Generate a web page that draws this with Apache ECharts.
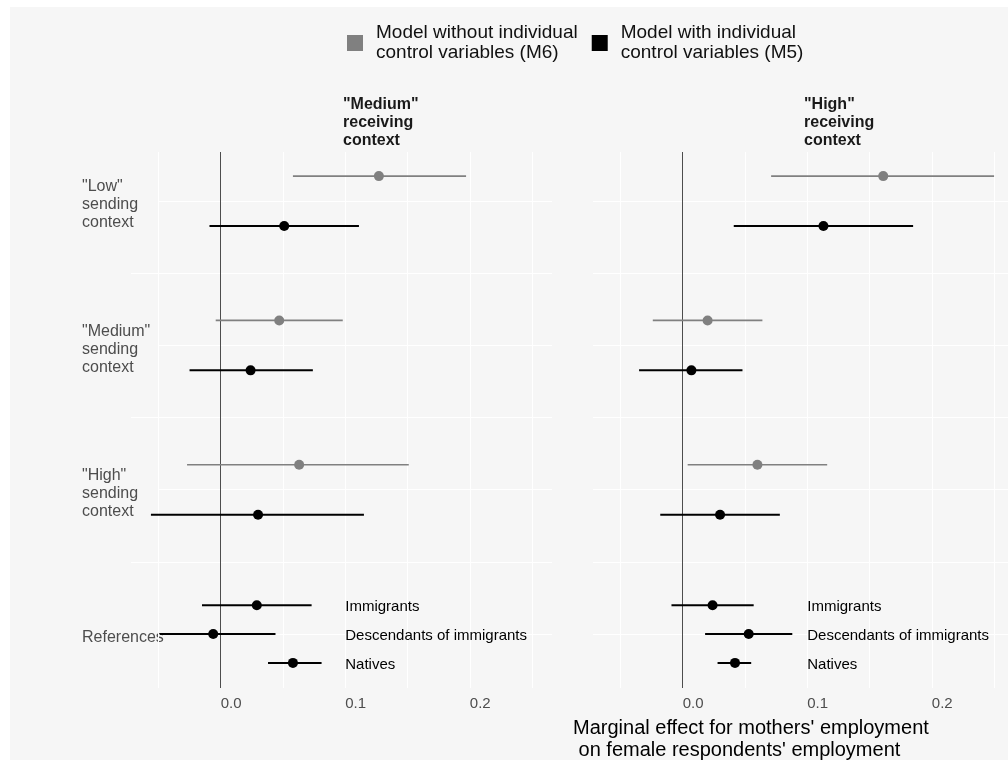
<!DOCTYPE html>
<html>
<head>
<meta charset="utf-8">
<script src="https://cdn.jsdelivr.net/npm/echarts@6/dist/echarts.min.js"></script>
<style>html,body{margin:0;padding:0;background:#fff}#c{width:1008px;height:760px}</style>
</head>
<body>
<div id="c"></div>
<script>
// ---------- data ----------
const panelTitles = ['"Medium"\nreceiving\ncontext', '"High"\nreceiving\ncontext'];
const rowLabels = ['References', '"High"\nsending\ncontext', '"Medium"\nsending\ncontext', '"Low"\nsending\ncontext'];
const sendingCats = ['"Low"\nsending\ncontext', '"Medium"\nsending\ncontext', '"High"\nsending\ncontext'];
const refCats = ['Immigrants', 'Descendants of immigrants', 'Natives'];
const seriesNames = ['Model without individual\ncontrol variables (M6)', 'Model with individual\ncontrol variables (M5)'];
const xTickValues = [0, 0.1, 0.2];
const xTickLabels = ['0.0', '0.1', '0.2'];
const xGridValues = [-0.05, 0, 0.05, 0.1, 0.15, 0.2, 0.25];
const yMajorGrid = [1, 2, 3, 4];
const yMinorGrid = [1.5, 2.5, 3.5];

// "Medium" receiving context (order: Low, Medium, High sending)
const medM6Est = [0.127, 0.047, 0.063];
const medM6Lo  = [0.058, -0.004, -0.027];
const medM6Hi  = [0.197, 0.098, 0.151];
const medM5Est = [0.051, 0.024, 0.030];
const medM5Lo  = [-0.009, -0.025, -0.056];
const medM5Hi  = [0.111, 0.074, 0.115];
const medRefEst = [0.029, -0.006, 0.058];
const medRefLo  = [-0.015, -0.049, 0.038];
const medRefHi  = [0.073, 0.044, 0.081];
// "High" receiving context
const highM6Est = [0.161, 0.020, 0.060];
const highM6Lo  = [0.071, -0.024, 0.004];
const highM6Hi  = [0.250, 0.064, 0.116];
const highM5Est = [0.113, 0.007, 0.030];
const highM5Lo  = [0.041, -0.035, -0.018];
const highM5Hi  = [0.185, 0.048, 0.078];
const highRefEst = [0.024, 0.053, 0.042];
const highRefLo  = [-0.009, 0.018, 0.028];
const highRefHi  = [0.057, 0.088, 0.055];

// ---------- layout helpers ----------
const DODGE = 0.173, REF_DODGE = 0.2, REF_LABEL_X = 0.1, LABEL_SHIFT = 0.026;
const groupPos = i => 4 - i;           // Low=4, Medium=3, High=2
const refPos = i => 1 + REF_DODGE * (1 - i); // Immigrants top, Natives bottom

function rows(lo, hi, est, off) {
  return est.map((e, i) => [lo[i], hi[i], e, groupPos(i) + off]);
}
function refRows(lo, hi, est) {
  return est.map((e, i) => [lo[i], hi[i], e, refPos(i), refCats[i]]);
}

function errRender(color, lw, withText) {
  return function (params, api) {
    const y = api.value(3);
    const p1 = api.coord([api.value(0), y]);
    const p2 = api.coord([api.value(1), y]);
    const pc = api.coord([api.value(2), y]);
    const children = [
      { type: 'line', shape: { x1: p1[0], y1: p1[1], x2: p2[0], y2: p2[1] },
        style: { stroke: color, lineWidth: lw } },
      { type: 'circle', shape: { cx: pc[0], cy: pc[1], r: 5 }, style: { fill: color } }
    ];
    if (withText) {
      const pt = api.coord([REF_LABEL_X, y]);
      children.push({ type: 'text', x: pt[0], y: pt[1] + 2,
        style: { text: refCats[params.dataIndex], fill: '#000', fontSize: 15,
          fontFamily: 'Liberation Sans, Arial, sans-serif', align: 'left', verticalAlign: 'middle' } });
    }
    return { type: 'group', children };
  };
}

const GRAY = '#808080', BLACK = '#000000';
const FONT = 'Liberation Sans, Arial, sans-serif';
const BG = '#f6f6f6';
const X_MIN = -0.072;
const PX_PER_UNIT = 1245.6;

const grids = [
  { left: 131, top: 152, width: 421, height: 536 },
  { left: 593, top: 152, width: 415, height: 536 }
];
const xMaxes = grids.map(g => X_MIN + g.width / PX_PER_UNIT);

const xAxes = grids.map((g, i) => ({
  type: 'value', gridIndex: i, min: X_MIN, max: xMaxes[i],
  axisLine: { show: false }, axisTick: { show: false }, splitLine: { show: false },
  axisLabel: { customValues: xTickValues, formatter: v => xTickLabels[xTickValues.findIndex(t => Math.abs(t - v) < 1e-9)] || '',
    align: 'left', color: '#4d4d4d', fontSize: 15, fontFamily: FONT, margin: 8 }
}));
const yAxes = grids.map((g, i) => ({
  type: 'value', gridIndex: i, min: 0.626, max: 4.34,
  axisLine: { show: false }, axisTick: { show: false }, splitLine: { show: false },
  axisLabel: i === 0 ? { customValues: yMajorGrid.map(v => v - LABEL_SHIFT), formatter: v => rowLabels[Math.round(v) - 1],
    align: 'left', margin: 49, color: '#4d4d4d', fontSize: 16, lineHeight: 18, fontFamily: FONT } : { show: false }
}));

const panelData = [
  { m6: rows(medM6Lo, medM6Hi, medM6Est, DODGE), m5: rows(medM5Lo, medM5Hi, medM5Est, -DODGE), ref: refRows(medRefLo, medRefHi, medRefEst) },
  { m6: rows(highM6Lo, highM6Hi, highM6Est, DODGE), m5: rows(highM5Lo, highM5Hi, highM5Est, -DODGE), ref: refRows(highRefLo, highRefHi, highRefEst) }
];

const WHITE_LINE = { color: '#ffffff', width: 1, type: 'solid' };
const series = [];
panelData.forEach((pd, i) => {
  const majorStart = i === 0 ? -0.05 : X_MIN;
  const gridData = xGridValues.map(v => ({ xAxis: v, lineStyle: WHITE_LINE }))
    .concat(yMinorGrid.map(v => ({ yAxis: v, lineStyle: WHITE_LINE })))
    .concat(yMajorGrid.map(v => [{ coord: [majorStart, v], lineStyle: WHITE_LINE }, { coord: [xMaxes[i], v] }]))
    .concat([{ xAxis: 0, lineStyle: { color: '#4d4d4d', width: 1, type: 'solid' } }]);
  series.push({
    type: 'line', xAxisIndex: i, yAxisIndex: i, data: [], silent: true, z: 1,
    markLine: { silent: true, symbol: 'none', label: { show: false }, animation: false, z: 1, data: gridData }
  });
  series.push({ type: 'custom', name: seriesNames[0], xAxisIndex: i, yAxisIndex: i, z: 10,
    itemStyle: { color: GRAY }, renderItem: errRender(GRAY, 1.6, false), data: pd.m6,
    encode: { x: [0, 1, 2], y: 3 }, animation: false });
  series.push({ type: 'custom', name: seriesNames[1], xAxisIndex: i, yAxisIndex: i, z: 10,
    itemStyle: { color: BLACK }, renderItem: errRender(BLACK, 2, false), data: pd.m5,
    encode: { x: [0, 1, 2], y: 3 }, animation: false });
  series.push({ type: 'custom', name: 'refs', xAxisIndex: i, yAxisIndex: i, z: 10,
    itemStyle: { color: BLACK }, renderItem: errRender(BLACK, 2, true), data: pd.ref,
    encode: { x: [0, 1, 2], y: 3 }, animation: false });
});

const chart = echarts.init(document.getElementById('c'), null, { renderer: 'canvas' });
chart.setOption({
  animation: false,
  backgroundColor: '#ffffff',
  graphic: [{ type: 'rect', shape: { x: 10, y: 7, width: 1010, height: 770 }, style: { fill: BG }, z: -10, silent: true }],
  title: [
    { text: panelTitles[0], left: 343, top: 96, padding: 0,
      textStyle: { fontSize: 16, fontWeight: 'bold', lineHeight: 18, color: '#1a1a1a', fontFamily: FONT } },
    { text: panelTitles[1], left: 804, top: 96, padding: 0,
      textStyle: { fontSize: 16, fontWeight: 'bold', lineHeight: 18, color: '#1a1a1a', fontFamily: FONT } },
    { text: "Marginal effect for mothers' employment\n on female respondents' employment", left: 573, top: 717, padding: 0,
      textStyle: { fontSize: 20, fontWeight: 'normal', lineHeight: 22, color: '#000', fontFamily: FONT } }
  ],
  legend: {
    data: seriesNames.map(n => ({ name: n, icon: 'rect' })),
    left: 347, top: 23, padding: 0, itemWidth: 16, itemHeight: 16, itemGap: 14,
    selectedMode: false,
    textStyle: { fontSize: 19, lineHeight: 20, color: '#111', fontFamily: FONT, padding: [0, 0, 0, 8] }
  },
  grid: grids,
  xAxis: xAxes,
  yAxis: yAxes,
  series
});
</script>
</body>
</html>
